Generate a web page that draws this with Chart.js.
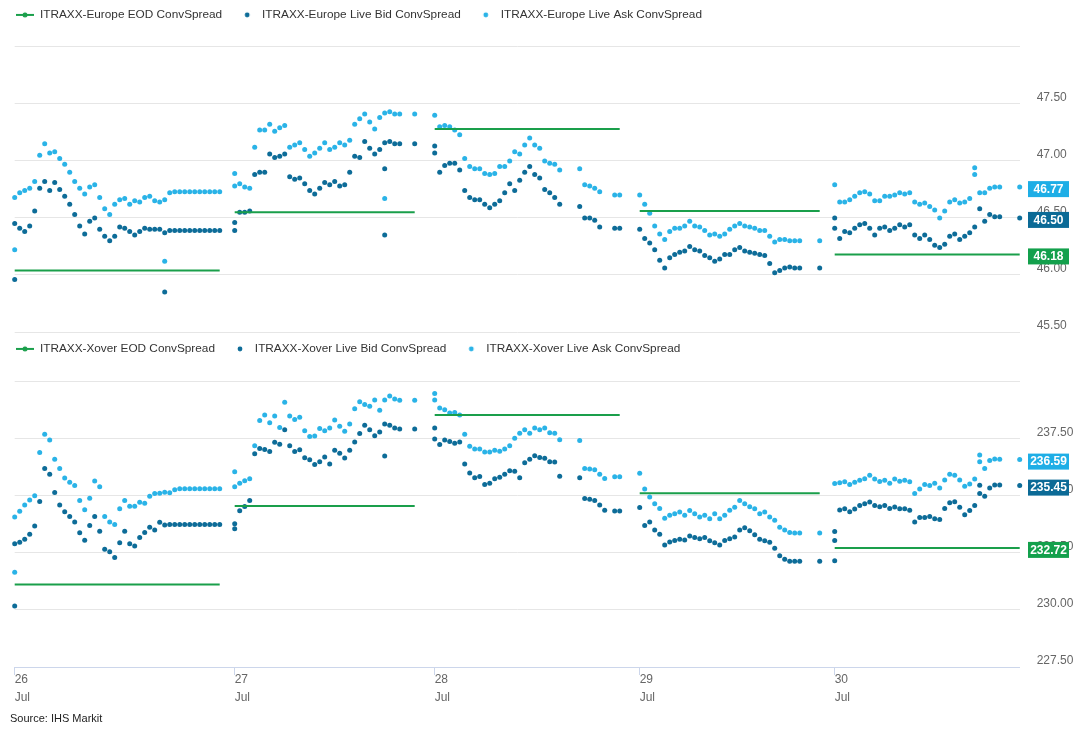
<!DOCTYPE html>
<html><head><meta charset="utf-8">
<script src="https://cdn.jsdelivr.net/npm/chart.js@4.4.0/dist/chart.umd.min.js"></script>
<style>
html,body{margin:0;padding:0;background:#fff;width:1078px;height:731px;overflow:hidden;position:relative;font-family:"Liberation Sans",Arial,sans-serif}
#c1{position:absolute;left:0;top:-7px}
#c2{position:absolute;left:0;top:327px}
#src{position:absolute;left:10px;top:711px;font-size:11px;line-height:14px;color:#222}
</style></head><body>
<canvas id="c1" width="1078" height="343"></canvas>
<canvas id="c2" width="1078" height="390"></canvas>
<div id="src">Source: IHS Markit</div>
<script>
// ---- categories / ticks ----
const sessionLabels = [['26','Jul'],['27','Jul'],['28','Jul'],['29','Jul'],['30','Jul']];
// ordinal slot at which each trading session starts (ordinal time axis)
const sessionStart = [0, 44, 84, 125, 164];

// ---- iTraxx Europe ----
const europeNames = ['ITRAXX-Europe EOD ConvSpread','ITRAXX-Europe Live Bid ConvSpread','ITRAXX-Europe Live Ask ConvSpread'];
const europeEod = [46.04, 46.55, 47.28, 46.56, 46.18];
const europeBid = [
 [46.45,46.41,46.38,46.43,46.56,46.76,46.82,46.74,46.81,46.75,46.69,46.62,46.53,46.43,46.36,46.47,46.50,46.40,46.34,46.30,46.34,46.42,46.41,46.38,46.35,46.38,46.41,46.40,46.40,46.40,46.37,46.39,46.39,46.39,46.39,46.39,46.39,46.39,46.39,46.39,46.39,46.39],
 [46.46,46.55,46.55,46.56,46.88,46.90,46.90,47.06,47.03,47.04,47.06,46.86,46.84,46.85,46.80,46.74,46.71,46.76,46.81,46.79,46.82,46.78,46.79,46.90,47.04,47.03,47.17,47.11,47.06,47.10,47.16,47.17,47.15,47.15,null,null,47.15],
 [47.13,46.90,46.96,46.98,46.98,46.92,46.74,46.68,46.66,46.66,46.62,46.59,46.62,46.65,46.72,46.80,46.74,46.83,46.90,46.95,46.88,46.85,46.75,46.72,46.68,46.62,null,null,null,46.60,46.50,46.50,46.48,46.42,null,null,46.41,46.41],
 [46.40,46.32,46.28,46.22,46.13,46.06,46.15,46.18,46.20,46.21,46.25,46.22,46.21,46.17,46.15,46.12,46.14,46.18,46.18,46.22,46.24,46.21,46.20,46.19,46.18,46.17,46.10,46.02,46.04,46.06,46.07,46.06,46.06,null,null,null,46.06],
 [46.50,46.32,46.38,46.37,46.41,46.44,46.45,46.41,46.35,46.41,46.42,46.39,46.41,46.44,46.42,46.44,46.35,46.32,46.35,46.31,46.26,46.24,46.27,46.34,46.36,46.31,46.34,46.37,46.42,46.58,46.47,46.53,46.51,46.51,null,null,null,46.50]
];
const europeAsk = [
 [46.68,46.72,46.74,46.76,46.82,47.05,47.15,47.07,47.08,47.02,46.97,46.90,46.82,46.76,46.71,46.77,46.79,46.68,46.58,46.53,46.62,46.66,46.67,46.62,46.65,46.64,46.68,46.69,46.65,46.64,46.66,46.72,46.73,46.73,46.73,46.73,46.73,46.73,46.73,46.73,46.73,46.73],
 [46.78,46.80,46.77,46.76,47.12,47.27,47.27,47.32,47.26,47.29,47.31,47.12,47.14,47.16,47.10,47.04,47.07,47.11,47.16,47.10,47.12,47.16,47.14,47.18,47.32,47.37,47.41,47.34,47.28,47.38,47.42,47.43,47.41,47.41,null,null,47.41],
 [47.40,47.30,47.31,47.30,47.27,47.23,47.02,46.95,46.93,46.93,46.89,46.88,46.89,46.95,46.95,47.00,47.08,47.06,47.14,47.20,47.14,47.11,47.00,46.98,46.97,46.92,null,null,null,46.93,46.79,46.78,46.76,46.73,null,null,46.70,46.70],
 [46.70,46.62,46.54,46.43,46.36,46.31,46.38,46.41,46.41,46.43,46.47,46.43,46.42,46.39,46.35,46.36,46.34,46.36,46.40,46.43,46.45,46.43,46.42,46.41,46.39,46.39,46.34,46.29,46.31,46.31,46.30,46.30,46.30,null,null,null,46.30],
 [46.79,46.64,46.64,46.66,46.69,46.72,46.73,46.71,46.65,46.65,46.69,46.69,46.70,46.72,46.71,46.72,46.64,46.62,46.63,46.60,46.57,46.50,46.56,46.64,46.66,46.63,46.64,46.67,46.88,46.72,46.72,46.76,46.77,46.77,null,null,null,46.77]
];
// extra quotes [session, slot, value]
const europeBidExtra = [[0,0,45.96],[0,30,45.85],[1,0,46.39],[1,30,46.93],[1,30,46.35],[2,0,47.07],[4,0,46.41]];
const europeAskExtra = [[0,0,46.22],[0,30,46.12],[1,0,46.89],[1,30,46.67],[4,28,46.94]];

// ---- iTraxx Crossover ----
const xoverNames = ['ITRAXX-Xover EOD ConvSpread','ITRAXX-Xover Live Bid ConvSpread','ITRAXX-Xover Live Ask ConvSpread'];
const xoverEod = [231.12, 234.56, 238.55, 235.12, 232.72];
const xoverBid = [
 [232.90,232.97,233.10,233.32,233.68,234.75,236.20,235.95,235.15,234.60,234.30,234.10,233.85,233.38,233.06,233.70,234.10,233.45,232.66,232.55,232.30,232.95,233.45,232.90,232.80,233.18,233.40,233.62,233.50,233.84,233.72,233.75,233.75,233.75,233.75,233.75,233.75,233.75,233.75,233.75,233.75,233.75],
 [233.78,234.35,234.53,234.80,236.85,237.08,237.03,236.95,237.35,237.26,237.90,237.20,236.95,237.02,236.67,236.58,236.37,236.50,236.70,236.40,237.00,236.87,236.66,237.00,237.36,237.73,238.10,237.90,237.64,237.80,238.15,238.10,237.98,237.93,null,null,237.93],
 [237.97,237.25,237.45,237.38,237.31,237.36,236.40,236.00,235.80,235.85,235.50,235.55,235.75,235.82,235.95,236.10,236.08,235.80,236.45,236.60,236.76,236.68,236.65,236.50,236.48,235.86,null,null,null,235.79,234.88,234.85,234.80,234.60,234.37,null,234.34,234.34],
 [234.49,233.70,233.85,233.50,233.32,232.85,232.98,233.04,233.10,233.07,233.24,233.18,233.12,233.18,233.03,232.95,232.85,233.04,233.12,233.20,233.50,233.60,233.47,233.30,233.10,233.03,232.97,232.70,232.38,232.22,232.14,232.13,232.13,null,null,null,232.13],
 [232.16,234.38,234.44,234.30,234.43,234.58,234.66,234.73,234.58,234.52,234.58,234.45,234.51,234.44,234.44,234.37,233.85,234.05,234.05,234.10,234.00,233.97,234.45,234.70,234.74,234.50,234.17,234.36,234.58,235.10,234.98,235.35,235.48,235.48,null,null,null,235.45]
];
const xoverAsk = [
 [234.07,234.33,234.60,234.82,235.01,236.90,237.70,237.45,236.60,236.20,235.78,235.60,235.46,234.80,234.39,234.90,235.65,235.40,234.10,233.86,233.75,234.44,234.80,234.55,234.55,234.72,234.68,234.98,235.10,235.12,235.16,235.14,235.27,235.31,235.31,235.31,235.31,235.31,235.31,235.31,235.31,235.31],
 [235.40,235.55,235.66,235.75,237.20,238.30,238.55,238.20,238.50,238.00,239.10,238.50,238.35,238.45,237.85,237.60,237.62,237.95,237.85,237.98,238.33,238.05,237.83,238.15,238.82,239.13,239.00,238.93,239.20,238.75,239.20,239.38,239.25,239.19,null,null,239.19],
 [239.20,238.85,238.78,238.63,238.65,238.55,237.70,237.18,237.05,237.05,236.92,236.92,237.00,236.96,237.05,237.20,237.53,237.75,237.90,237.75,237.97,237.90,237.97,237.77,237.75,237.46,null,null,null,237.43,236.20,236.18,236.15,235.95,235.76,null,235.84,235.84],
 [235.99,235.30,234.95,234.65,234.45,234.02,234.15,234.22,234.29,234.15,234.36,234.22,234.07,234.15,234.00,234.22,234.00,234.15,234.37,234.50,234.80,234.66,234.52,234.44,234.22,234.29,234.07,233.93,233.62,233.50,233.40,233.37,233.37,null,null,null,233.37],
 [235.54,235.58,235.62,235.50,235.60,235.68,235.75,235.90,235.74,235.63,235.68,235.55,235.74,235.64,235.68,235.62,235.10,235.30,235.50,235.45,235.55,235.35,235.70,235.95,235.90,235.70,235.42,235.52,235.74,236.50,236.20,236.55,236.62,236.60,null,null,null,236.59]
];
const xoverBidExtra = [[0,0,230.17],[1,0,233.56],[1,30,236.75],[2,0,237.49],[4,0,233.44],[4,0,233.04],[4,29,235.47]];
const xoverAskExtra = [[0,0,231.65],[1,0,236.06],[2,0,239.49],[4,29,236.79]];

// ---- styles ----
const GREEN = '#1a9f4b', BID = '#0d6c98', ASK = '#2ab3e7';
const BADGE = { eod: '#13a04c', bid: '#0b6a96', ask: '#1eaee6' };
const FONT = '"Liberation Sans", Arial, sans-serif';
Chart.defaults.font.family = FONT;

function quotePoints(days, extra) {
  const pts = [];
  days.forEach((vals, d) => vals.forEach((v, k) => { if (v !== null) pts.push({ x: sessionStart[d] + k, y: v }); }));
  extra.forEach(([d, k, v]) => pts.push({ x: sessionStart[d] + k, y: v }));
  return pts;
}
function eodPoints(eod, days) {
  const pts = [];
  eod.forEach((v, d) => {
    pts.push({ x: sessionStart[d], y: v });
    pts.push({ x: sessionStart[d] + days[d].length - 1, y: v });
    pts.push({ x: sessionStart[d] + days[d].length - 0.5, y: null });
  });
  return pts;
}
function lastVal(days) { const a = days[days.length - 1]; for (let i = a.length - 1; i >= 0; i--) if (a[i] !== null) return a[i]; }
function dotIcon(color) {
  const c = document.createElement('canvas'); c.width = 8; c.height = 8;
  const g = c.getContext('2d'); g.fillStyle = color; g.beginPath(); g.arc(4, 4, 2.4, 0, Math.PI * 2); g.fill(); return c;
}
function lineIcon(color) {
  const c = document.createElement('canvas'); c.width = 20; c.height = 8;
  const g = c.getContext('2d'); g.strokeStyle = color; g.lineWidth = 2;
  g.beginPath(); g.moveTo(1, 4); g.lineTo(19, 4); g.stroke();
  g.fillStyle = color; g.beginPath(); g.arc(10, 4, 2.5, 0, Math.PI * 2); g.fill(); return c;
}
const icons = [lineIcon(GREEN), dotIcon(BID), dotIcon(ASK)];

function makeChart(canvas, cfg) {
  const badges = [
    { value: lastVal(cfg.ask), color: BADGE.ask },
    { value: lastVal(cfg.bid), color: BADGE.bid },
    { value: cfg.eod[cfg.eod.length - 1], color: BADGE.eod }
  ];
  const badgePlugin = {
    id: 'lastBadges',
    afterDraw(chart) {
      const { ctx } = chart; const y = chart.scales.y;
      badges.forEach(b => {
        const py = y.getPixelForValue(b.value) + 2;
        ctx.save();
        ctx.fillStyle = b.color; ctx.fillRect(1028, py - 8, 41, 16);
        ctx.fillStyle = '#fff'; ctx.font = 'bold 12px ' + FONT;
        ctx.textAlign = 'center'; ctx.textBaseline = 'middle';
        ctx.fillText(b.value.toFixed(2), 1048.5, py + 0.5);
        ctx.restore();
      });
    }
  };
  const legendGap = {
    id: 'legendGap',
    afterInit(chart) {
      const fit = chart.legend.fit;
      chart.legend.fit = function () { fit.call(this); this.height += cfg.gap; };
    },
    afterLayout(chart) { chart.legend.left = 0; }
  };
  return new Chart(canvas, {
    type: 'scatter',
    data: {
      datasets: [
        { type: 'line', label: cfg.names[0], data: eodPoints(cfg.eod, cfg.bid), borderColor: GREEN, backgroundColor: GREEN, borderWidth: 2, pointRadius: 0, spanGaps: false, clip: false },
        { label: cfg.names[1], data: quotePoints(cfg.bid, cfg.bidExtra), backgroundColor: BID, borderWidth: 0, pointRadius: 2.5, clip: false },
        { label: cfg.names[2], data: quotePoints(cfg.ask, cfg.askExtra), backgroundColor: ASK, borderWidth: 0, pointRadius: 2.5, clip: false }
      ]
    },
    options: {
      responsive: false, animation: false, events: [],
      layout: { padding: { left: 14.7, right: 0, top: 0, bottom: cfg.bottomPad } },
      plugins: {
        tooltip: { enabled: false },
        legend: {
          display: true, position: 'top', align: 'start',
          labels: {
            usePointStyle: true, pointStyleWidth: 18, padding: 16, color: '#333',
            font: { size: 11.8, family: FONT },
            generateLabels: chart => chart.data.datasets.map((ds, i) => ({
              text: ds.label, pointStyle: icons[i], fillStyle: ds.backgroundColor, strokeStyle: ds.backgroundColor,
              lineWidth: 0, hidden: false, datasetIndex: i, fontColor: '#333'
            }))
          }
        }
      },
      scales: {
        x: {
          type: 'linear', min: 0, max: 201, display: cfg.showX,
          afterBuildTicks: s => { s.ticks = sessionStart.map(v => ({ value: v })); },
          grid: { drawOnChartArea: false, drawTicks: true, tickLength: 8, color: '#ccd6eb' },
          border: { display: true, color: '#ccd6eb' },
          ticks: { autoSkip: false, maxRotation: 0, minRotation: 0, align: 'start', padding: -4, color: '#666',
                   font: { size: 12, lineHeight: 1.5 }, callback: (v, i) => sessionLabels[i] },
          afterFit: s => { s.height = cfg.showX ? 50 : 0; s.paddingLeft = 0; s.paddingRight = 0; }
        },
        y: {
          position: 'right', min: cfg.min, max: cfg.max,
          ticks: { stepSize: cfg.step, padding: 17, labelOffset: -6, color: '#666', font: { size: 12 },
                   callback: (v, i, t) => i === t.length - 1 ? '' : Number(v).toFixed(2) },
          grid: { color: '#e6e6e6', drawTicks: false },
          border: { display: false },
          afterFit: s => { s.width = 58.3; s.paddingTop = 0; s.paddingBottom = 0; }
        }
      }
    },
    plugins: [badgePlugin, legendGap]
  });
}

makeChart(document.getElementById('c1'), {
  names: europeNames, eod: europeEod, bid: europeBid, ask: europeAsk,
  bidExtra: europeBidExtra, askExtra: europeAskExtra,
  min: 45.5, max: 48, step: 0.5, showX: false, bottomPad: 4, gap: 16
});
makeChart(document.getElementById('c2'), {
  names: xoverNames, eod: xoverEod, bid: xoverBid, ask: xoverAsk,
  bidExtra: xoverBidExtra, askExtra: xoverAskExtra,
  min: 227.5, max: 240, step: 2.5, showX: true, bottomPad: 0, gap: 17
});
</script>
</body></html>
